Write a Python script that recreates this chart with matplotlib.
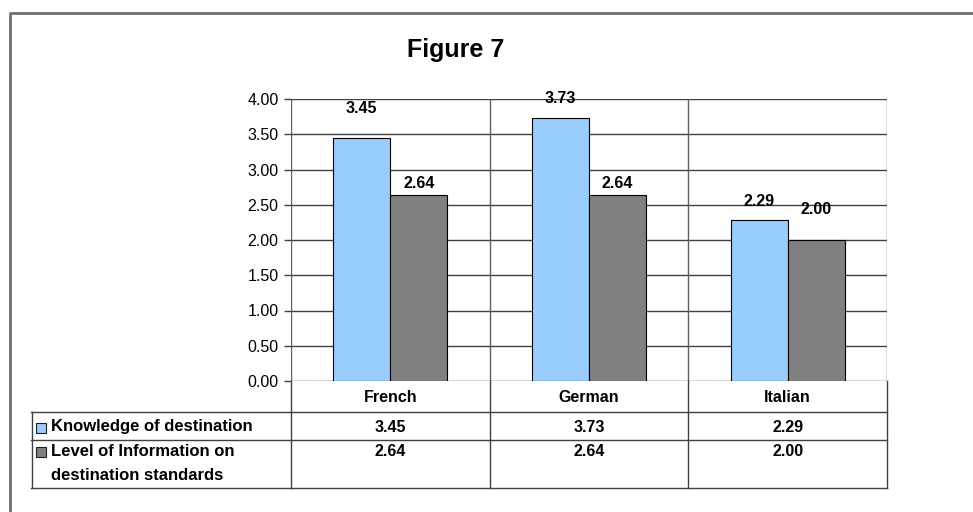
import matplotlib
matplotlib.use("Agg")
import matplotlib.pyplot as plt
from matplotlib.patches import Rectangle
import numpy as np

plt.rcParams['font.family'] = ['Liberation Sans', 'DejaVu Sans']

title = "Figure 7"
categories = ["French", "German", "Italian"]
series_names = ["Knowledge of destination", "Level of Information on", "destination standards"]
knowledge = [3.45, 3.73, 2.29]
information = [2.64, 2.64, 2.00]
y_ticks = [0.0, 0.5, 1.0, 1.5, 2.0, 2.5, 3.0, 3.5, 4.0]

colors = ["#99CCFF", "#808080"]
# gap between bar top and label bottom (pixels), mimicking the reference placement
label_offsets = [[22, 12, 11], [4, 4, 23]]

FS = 11.5      # bold labels
LFS = 12       # legend row labels
TFS = 11.5     # tick labels

W, H = 973, 512
fig = plt.figure(figsize=(W / 100, H / 100), dpi=100)
fig.patch.set_facecolor("white")

# overlay axes in pixel coordinates
ov = fig.add_axes([0, 0, 1, 1], zorder=0)
ov.set_xlim(0, W)
ov.set_ylim(H, 0)
ov.axis("off")

# outer frame
ov.plot([9.5, W], [12.5, 12.5], color="#707070", lw=2, solid_capstyle="butt")
ov.plot([9.5, 9.5], [12, H], color="#707070", lw=2, solid_capstyle="butt")

# title
ov.text(456, 50, title, ha="center", va="center", fontsize=18, fontweight="bold")

# main axes
pl, pr, pt, pb = 291, 887, 99, 381
ax = fig.add_axes([pl / W, (H - pb) / H, (pr - pl) / W, (pb - pt) / H], zorder=1)
x = np.arange(len(categories))
bw = 0.287
b1 = ax.bar(x - bw / 2, knowledge, bw, color=colors[0], edgecolor="black", linewidth=0.8, zorder=3)
b2 = ax.bar(x + bw / 2, information, bw, color=colors[1], edgecolor="black", linewidth=0.8, zorder=3)
ax.set_xlim(-0.5, len(categories) - 0.5)
ax.set_ylim(0, 4)
ax.set_yticks(y_ticks)
ax.set_yticklabels([f"{v:.2f}" for v in y_ticks], fontsize=TFS)
ax.set_xticks([])
ax.tick_params(axis="y", direction="out", length=5, width=1, color="#404040", pad=4)
for v in y_ticks:
    ax.axhline(v, color="#404040", lw=1, zorder=1)
for b in np.arange(len(categories) + 1) - 0.5:
    ax.axvline(b, color="#606060", lw=1, zorder=1)
for s in ax.spines.values():
    s.set_visible(False)
ax.patch.set_alpha(0)

for series, vals, offs in ((b1, knowledge, label_offsets[0]), (b2, information, label_offsets[1])):
    for rect, v, o in zip(series, vals, offs):
        ax.annotate(f"{v:.2f}", (rect.get_x() + rect.get_width() / 2, v),
                    xytext=(0, o * 0.72), textcoords="offset points",
                    ha="center", va="bottom", fontsize=FS, fontweight="bold")

# data table below the axes, x in data coordinates, y in pixels
def yf(py):
    return (pb - py) / (pb - pt)

tr = ax.get_xaxis_transform()
lc = "#404040"
for py in (412, 440, 488):
    ax.plot([-0.5, len(categories) - 0.5], [yf(py)] * 2, transform=tr, color=lc, lw=1, clip_on=False)
for b in np.arange(len(categories) + 1) - 0.5:
    ax.plot([b, b], [yf(381), yf(488)], transform=tr, color=lc, lw=1, clip_on=False)

# legend column lines (pixel overlay)
for py in (412, 440, 488):
    ov.plot([31, pl], [py, py], color=lc, lw=1)
ov.plot([31.5, 31.5], [412, 488], color=lc, lw=1)

for i, c in enumerate(categories):
    ax.text(i, yf(397), c, transform=tr, ha="center", va="center", fontsize=FS, fontweight="bold")
    ax.text(i, yf(427), f"{knowledge[i]:.2f}", transform=tr, ha="center", va="center",
            fontsize=FS, fontweight="bold")
    ax.text(i, yf(451), f"{information[i]:.2f}", transform=tr, ha="center", va="center",
            fontsize=FS, fontweight="bold")

# legend keys and row labels
ov.add_patch(Rectangle((35.5, 422.5), 10, 10, facecolor=colors[0], edgecolor="#202020", lw=0.8))
ov.add_patch(Rectangle((35.5, 446.5), 10, 10, facecolor=colors[1], edgecolor="#202020", lw=0.8))
ov.text(51, 427, series_names[0], ha="left", va="center", fontsize=LFS, fontweight="bold")
ov.text(51, 452, series_names[1], ha="left", va="center", fontsize=LFS, fontweight="bold")
ov.text(51, 476, series_names[2], ha="left", va="center", fontsize=LFS, fontweight="bold")

fig.savefig("out.png", dpi=100)
